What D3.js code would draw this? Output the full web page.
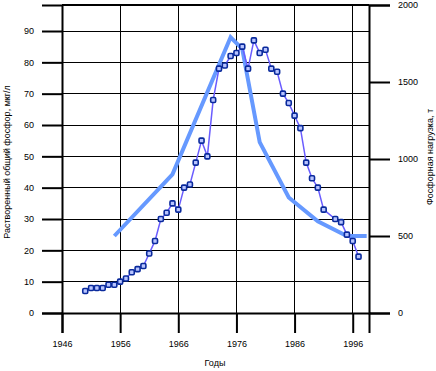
<!DOCTYPE html>
<html>
<head>
<meta charset="utf-8">
<script src="https://cdn.jsdelivr.net/npm/d3@7"></script>
<style>
  body { margin: 0; background: #fff; }
  text { font-family: Arial, "Liberation Sans", sans-serif; }
</style>
</head>
<body>
<svg width="436" height="371"></svg>
<script>
const width = 436, height = 371;
const plotLeft = 62, plotRight = 369, plotTop = 5, plotBottom = 313;

// Dissolved total phosphorus, ug/l (left axis)
const tpYears = [1950, 1951, 1952, 1953, 1954, 1955, 1956, 1957, 1958, 1959, 1960,
                 1961, 1962, 1963, 1964, 1965, 1966, 1967, 1968, 1969, 1970, 1971,
                 1972, 1973, 1974, 1975, 1976, 1977, 1978, 1979, 1980, 1981, 1982,
                 1983, 1984, 1985, 1986, 1987, 1988, 1989, 1990, 1991, 1993, 1994,
                 1995, 1996, 1997];
const tpValues = [7, 8, 8, 8, 9, 9, 10, 11, 13, 14, 15,
                  19, 23, 30, 32, 35, 33, 40, 41, 48, 55, 50,
                  68, 78, 79, 82, 83, 85, 78, 87, 83, 84, 78,
                  77, 70, 67, 63, 59, 48, 43, 40, 33, 30, 29,
                  25, 23, 18];

// Phosphorus load, t (right axis)
const loadYears = [1955, 1965, 1975, 1977, 1980, 1985, 1990, 1995, 1998.4];
const loadValues = [500, 900, 1790, 1715, 1110, 750, 595, 500, 500];

const xTicks = [1946, 1956, 1966, 1976, 1986, 1996];
const xMinorTicks = [1951, 1961, 1971, 1981, 1991];
const leftTicks = [0, 10, 20, 30, 40, 50, 60, 70, 80, 90];
const leftMinorTicks = [5, 15, 25, 35, 45, 55, 65, 75, 85, 95];
const rightTicks = [0, 500, 1000, 1500, 2000];
const rightMinorTicks = [100, 200, 300, 400, 600, 700, 800, 900, 1100, 1200, 1300, 1400, 1600, 1700, 1800, 1900];

const svg = d3.select("svg");

const x = d3.scaleLinear().domain([1946, 1998.8]).range([plotLeft, plotRight]);
const yL = d3.scaleLinear().domain([0, 98.3]).range([plotBottom, plotTop]);
const yR = d3.scaleLinear().domain([0, 2000]).range([plotBottom, plotTop]);

// grid lines
const grid = svg.append("g");
grid.selectAll("line.v")
    .data(xTicks.slice(1))
    .enter().append("line")
    .attr("x1", d => x(d)).attr("x2", d => x(d))
    .attr("y1", plotTop).attr("y2", plotBottom)
    .attr("stroke", "#000").attr("stroke-width", 1).attr("shape-rendering", "crispEdges");
grid.selectAll("line.h")
    .data(leftTicks.slice(1))
    .enter().append("line")
    .attr("x1", plotLeft).attr("x2", plotRight)
    .attr("y1", d => yL(d)).attr("y2", d => yL(d))
    .attr("stroke", "#000").attr("stroke-width", 1).attr("shape-rendering", "crispEdges");

// phosphorus load line
const loadLine = d3.line()
    .x((d, i) => x(loadYears[i]))
    .y(d => yR(d));
svg.append("path")
    .datum(loadValues)
    .attr("d", loadLine)
    .attr("fill", "none")
    .attr("stroke", "#6699ff")
    .attr("stroke-width", 4);

// dissolved phosphorus line + markers
const tpLine = d3.line()
    .x((d, i) => x(tpYears[i]))
    .y(d => yL(d));
svg.append("path")
    .datum(tpValues)
    .attr("d", tpLine)
    .attr("fill", "none")
    .attr("stroke", "#6a5cff")
    .attr("stroke-width", 1.5);

svg.selectAll("rect.pt")
    .data(tpValues)
    .enter().append("rect")
    .attr("class", "pt")
    .attr("x", (d, i) => x(tpYears[i]) - 2.5)
    .attr("y", d => yL(d) - 2.5)
    .attr("width", 5).attr("height", 5)
    .attr("rx", 1.2)
    .attr("fill", "#b8c4ff")
    .attr("stroke", "#0a2a9c")
    .attr("stroke-width", 1.6);

// top frame
svg.append("line")
    .attr("x1", plotLeft).attr("x2", plotRight)
    .attr("y1", plotTop).attr("y2", plotTop)
    .attr("stroke", "#000").attr("stroke-width", 2);

// left axis
const leftAxis = svg.append("g").attr("transform", `translate(${plotLeft},0)`);
leftAxis.call(d3.axisLeft(yL).tickValues(leftMinorTicks).tickSize(10).tickFormat(""));
leftAxis.call(d3.axisLeft(yL).tickValues(leftTicks).tickSize(20).tickPadding(8));

// right axis
const rightAxis = svg.append("g").attr("transform", `translate(${plotRight},0)`);
rightAxis.call(d3.axisRight(yR).tickValues(rightMinorTicks).tickSize(11).tickFormat(""));
rightAxis.call(d3.axisRight(yR).tickValues(rightTicks).tickSize(21).tickPadding(8).tickFormat(d3.format("d")));

// bottom axis
const bottomAxis = svg.append("g").attr("transform", `translate(0,${plotBottom})`);
bottomAxis.call(d3.axisBottom(x).tickValues(xMinorTicks).tickSize(11).tickFormat(""));
bottomAxis.call(d3.axisBottom(x).tickValues(xTicks).tickSize(20).tickPadding(8).tickFormat(d3.format("d")));

svg.selectAll(".domain").attr("stroke-width", 2).attr("stroke", "#000");
svg.selectAll(".tick line").attr("stroke-width", 2).attr("stroke", "#000");
svg.selectAll(".tick text").attr("font-size", "9px").attr("fill", "#000");

// titles
svg.append("text")
    .attr("x", 215).attr("y", 366)
    .attr("text-anchor", "middle")
    .attr("font-size", "9px")
    .text("Годы");

svg.append("text")
    .attr("transform", "translate(10,162) rotate(-90)")
    .attr("text-anchor", "middle")
    .attr("font-size", "9px")
    .text("Растворенный общий фосфор, мкг/л");

svg.append("text")
    .attr("transform", "translate(433,157) rotate(-90)")
    .attr("text-anchor", "middle")
    .attr("font-size", "9px")
    .text("Фосфорная нагрузка, т");
</script>
</body>
</html>
